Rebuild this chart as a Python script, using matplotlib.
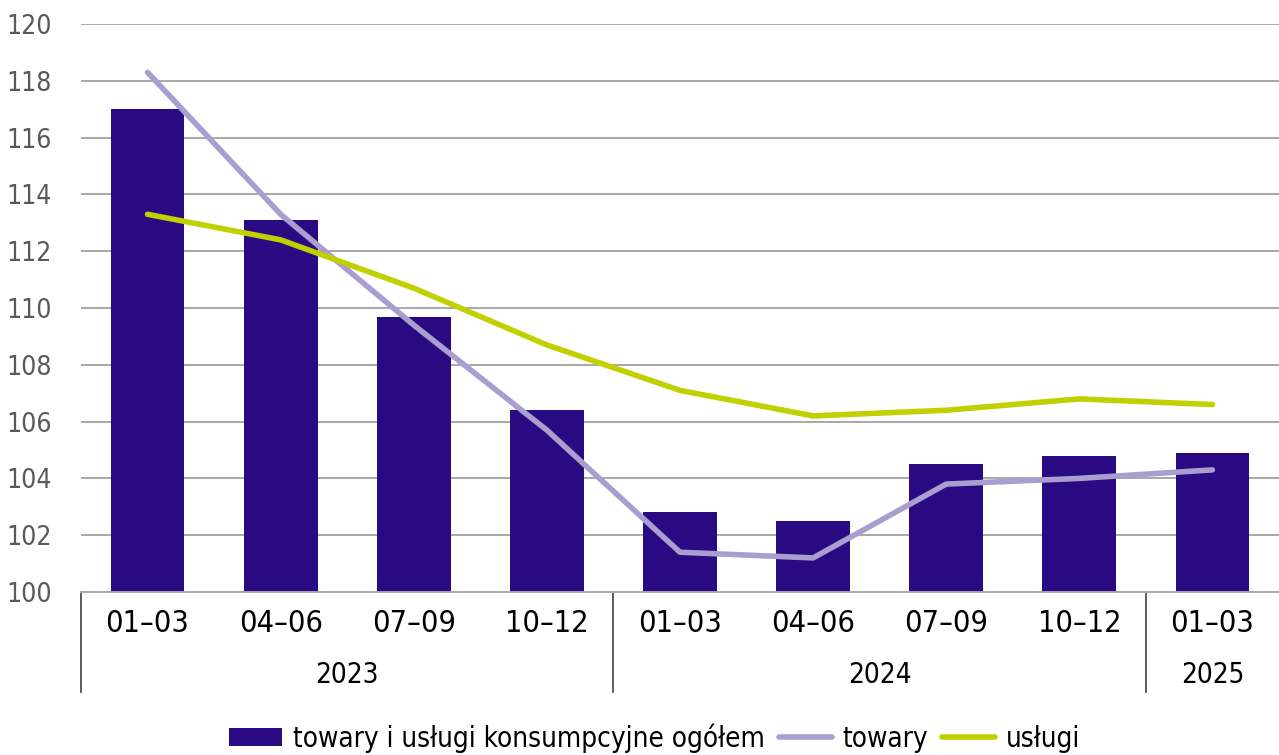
import numpy as np
import matplotlib
matplotlib.use('Agg')
import matplotlib.pyplot as plt
import matplotlib.transforms as mtransforms

plt.rcParams['font.family'] = ['DejaVu Sans']
plt.rcParams['font.stretch'] = 'condensed'

quarters = ['01–03', '04–06', '07–09', '10–12',
            '01–03', '04–06', '07–09', '10–12',
            '01–03']
years = ['2023', '2024', '2025']
year_counts = [4, 4, 1]

total = [117.0, 113.1, 109.7, 106.4, 102.8, 102.5, 104.5, 104.8, 104.9]
goods = [118.3, 113.3, 109.4, 105.7, 101.4, 101.2, 103.8, 104.0, 104.3]
services = [113.3, 112.4, 110.7, 108.7, 107.1, 106.2, 106.4, 106.8, 106.6]

bar_color = '#2a0a82'
goods_color = '#a99ecf'
services_color = '#c0d000'
grid_color = '#a8a8a8'

fig = plt.figure(figsize=(12.79, 7.55), dpi=100)
ax = fig.add_axes([0.0633, 0.2159, 0.9367, 0.7523])

x = np.arange(len(quarters))
bars = ax.bar(x, total, width=0.555, color=bar_color, zorder=2)
l_goods, = ax.plot(x, goods, color=goods_color, lw=4, solid_capstyle='round',
                   solid_joinstyle='round', zorder=3)
l_serv, = ax.plot(x, services, color=services_color, lw=4, solid_capstyle='round',
                  solid_joinstyle='round', zorder=4)

ax.set_xlim(-0.5, len(quarters) - 0.5)
ax.set_ylim(100, 120)
ax.set_yticks(np.arange(100, 121, 2))
ax.yaxis.grid(True, color=grid_color, lw=1.4, zorder=0)
ax.set_axisbelow(True)
for s in ['top', 'right', 'left']:
    ax.spines[s].set_visible(False)
ax.spines['bottom'].set_color(grid_color)
ax.spines['bottom'].set_linewidth(1.4)
ax.tick_params(axis='y', length=0, pad=21, labelsize=19, labelcolor='#595959')
ax.tick_params(axis='x', length=0, labelbottom=False)

# two-level category axis
trans = mtransforms.blended_transform_factory(ax.transData, ax.transAxes)
for xi, q in zip(x, quarters):
    ax.text(xi, -0.056, q, transform=trans, ha='center', va='center',
            fontsize=22, color='black')
start = 0
bounds = [-0.5]
for yr, n in zip(years, year_counts):
    ax.text(start + (n - 1) / 2, -0.146, yr, transform=trans, ha='center',
            va='center', fontsize=20, color='black')
    start += n
    bounds.append(start - 0.5)
for b in bounds[:-1]:
    ax.plot([b, b], [0, -0.176], transform=trans, color='#404040', lw=1.2,
            clip_on=False)

fig.legend([bars, l_goods, l_serv],
           ['towary i usługi konsumpcyjne ogółem', 'towary', 'usługi'],
           loc='center', bbox_to_anchor=(0.512, 0.0225), ncol=3,
           frameon=False, fontsize=20, handlelength=1.9, handleheight=0.62,
           handletextpad=0.4, columnspacing=0.5, borderaxespad=0)

fig.savefig('out.png', dpi=100, facecolor='white')
